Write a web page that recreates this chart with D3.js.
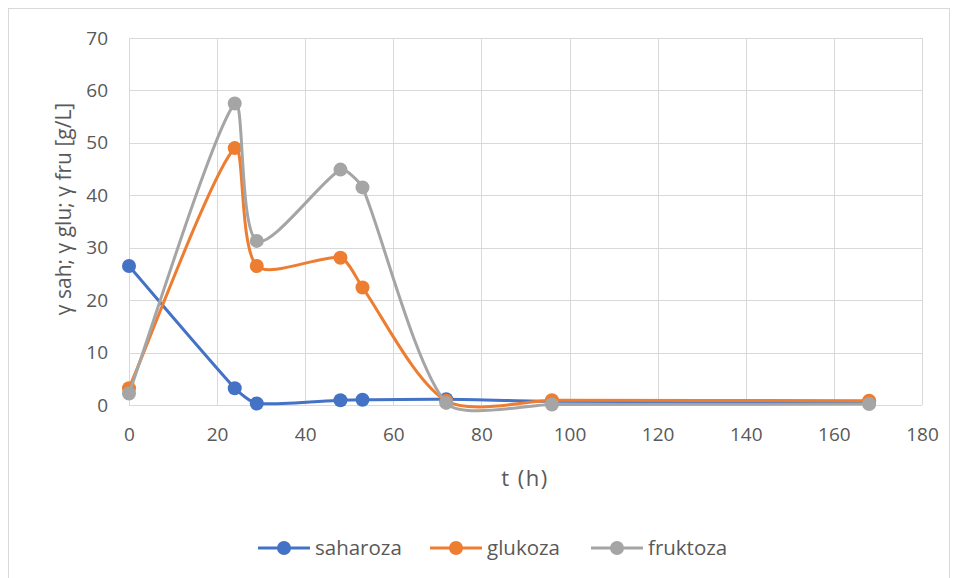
<!DOCTYPE html>
<html>
<head>
<meta charset="utf-8">
<script src="https://cdn.jsdelivr.net/npm/d3@7"></script>
<style>
  body { margin: 0; background: #fff; }
  text { font-family: "Open Sans", sans-serif; fill: #595959; }
</style>
</head>
<body>
<svg width="957" height="578"></svg>
<script>
var hours = [0, 24, 29, 48, 53, 72, 96, 168];
var saharoza = [26.5, 3.2, 0.3, 0.9, 1.0, 1.1, 0.7, 0.6];
var glukoza = [3.2, 49.0, 26.5, 28.1, 22.4, 0.8, 0.9, 0.8];
var fruktoza = [2.2, 57.5, 31.3, 44.9, 41.5, 0.4, 0.1, 0.2];
var seriesNames = ["saharoza", "glukoza", "fruktoza"];
var colors = ["#4472C4", "#ED7D31", "#A5A5A5"];
var xTicks = [0, 20, 40, 60, 80, 100, 120, 140, 160, 180];
var yTicks = [0, 10, 20, 30, 40, 50, 60, 70];

var series = [saharoza, glukoza, fruktoza];

var svg = d3.select("svg");

// chart frame
svg.append("rect")
    .attr("x", 8.5).attr("y", 8.5)
    .attr("width", 941).attr("height", 600)
    .attr("fill", "none")
    .attr("stroke", "#D9D9D9");

var x = d3.scaleLinear().domain([0, 180]).range([129, 922]);
var y = d3.scaleLinear().domain([0, 70]).range([405, 38]);

// grid
svg.append("g").selectAll("line")
    .data(yTicks)
    .enter().append("line")
    .attr("x1", x(0)).attr("x2", x(180))
    .attr("y1", function (d) { return Math.round(y(d)) + 0.5; })
    .attr("y2", function (d) { return Math.round(y(d)) + 0.5; })
    .attr("stroke", "#D9D9D9");

svg.append("g").selectAll("line")
    .data(xTicks)
    .enter().append("line")
    .attr("y1", y(0)).attr("y2", y(70))
    .attr("x1", function (d) { return Math.round(x(d)) + 0.5; })
    .attr("x2", function (d) { return Math.round(x(d)) + 0.5; })
    .attr("stroke", "#D9D9D9");

// axes (labels only, like Excel)
var xAxis = svg.append("g")
    .attr("transform", "translate(0," + y(0) + ")")
    .call(d3.axisBottom(x).tickValues(xTicks).tickSize(0).tickPadding(23));
var yAxis = svg.append("g")
    .attr("transform", "translate(" + x(0) + ",0)")
    .call(d3.axisLeft(y).tickValues(yTicks).tickSize(0).tickPadding(21));
[xAxis, yAxis].forEach(function (a) {
    a.select(".domain").remove();
    a.selectAll("text").attr("font-size", 19).attr("fill", "#595959")
        .style("font-family", "'Open Sans', sans-serif");
});

svg.append("text")
    .attr("x", 525).attr("y", 486)
    .attr("text-anchor", "middle")
    .attr("font-size", 22)
    .attr("letter-spacing", 1.5)
    .text("t (h)");

svg.append("text")
    .attr("transform", "translate(71,209) rotate(-90)")
    .attr("text-anchor", "middle")
    .attr("font-size", 21)
    .text("γ sah; γ glu; γ fru [g/L]");

// smoothed line: cubic beziers, tangent along P(i+1)-P(i-1),
// arm |P(i+1)-P(i-1)|/6 shrunk when the neighbouring segment is longer
function dist(a, b) { return Math.hypot(b[0] - a[0], b[1] - a[1]); }
function smoothPath(pts) {
    var n = pts.length;
    var p = d3.path();
    p.moveTo(pts[0][0], pts[0][1]);
    for (var i = 0; i < n - 1; i++) {
        var p0 = pts[Math.max(i - 1, 0)], p1 = pts[i], p2 = pts[i + 1],
            p3 = pts[Math.min(i + 2, n - 1)];
        var seg = dist(p1, p2);
        var segPrev = i > 0 ? dist(p0, p1) : seg;
        var segNext = i + 2 < n ? dist(p2, p3) : seg;
        var t1 = [p2[0] - p0[0], p2[1] - p0[1]], l1 = Math.hypot(t1[0], t1[1]);
        var t2 = [p3[0] - p1[0], p3[1] - p1[1]], l2 = Math.hypot(t2[0], t2[1]);
        var a1 = Math.min(l1 / 6 * Math.min(1, seg / segPrev), seg / 2);
        var a2 = Math.min(l2 / 6 * Math.min(1, seg / segNext), seg / 2);
        var c1 = [p1[0] + t1[0] / l1 * a1, p1[1] + t1[1] / l1 * a1];
        var c2 = [p2[0] - t2[0] / l2 * a2, p2[1] - t2[1] / l2 * a2];
        p.bezierCurveTo(c1[0], c1[1], c2[0], c2[1], p2[0], p2[1]);
    }
    return p.toString();
}

series.forEach(function (vals, i) {
    var pts = hours.map(function (h, j) { return [x(h), y(vals[j])]; });
    var g = svg.append("g");
    g.append("path")
        .attr("d", smoothPath(pts))
        .attr("fill", "none")
        .attr("stroke", colors[i])
        .attr("stroke-width", 3)
        .attr("stroke-linecap", "round");
    g.selectAll("circle")
        .data(pts)
        .enter().append("circle")
        .attr("cx", function (d) { return d[0]; })
        .attr("cy", function (d) { return d[1]; })
        .attr("r", 7)
        .attr("fill", colors[i]);
});

// legend
var legendX = [258, 430, 591];
var legend = svg.append("g");
seriesNames.forEach(function (name, i) {
    var lx = legendX[i];
    legend.append("line")
        .attr("x1", lx).attr("x2", lx + 52)
        .attr("y1", 548).attr("y2", 548)
        .attr("stroke", colors[i]).attr("stroke-width", 3);
    legend.append("circle")
        .attr("cx", lx + 26).attr("cy", 548).attr("r", 7)
        .attr("fill", colors[i]);
    legend.append("text")
        .attr("x", lx + 57).attr("y", 555)
        .attr("font-size", 20.5)
        .text(name);
});
</script>
</body>
</html>
